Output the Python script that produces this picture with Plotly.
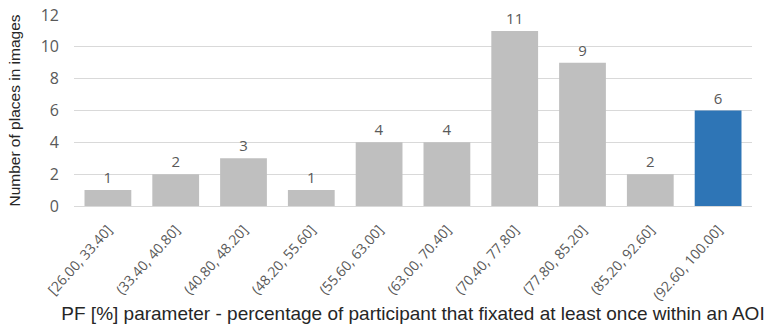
import plotly.graph_objects as go

# Histogram bins of the PF parameter and the number of places in each
bins = ["[26.00, 33.40]", "(33.40, 40.80]", "(40.80, 48.20]", "(48.20, 55.60]",
        "(55.60, 63.00]", "(63.00, 70.40]", "(70.40, 77.80]", "(77.80, 85.20]",
        "(85.20, 92.60]", "(92.60, 100.00]"]
counts = [1, 2, 3, 1, 4, 4, 11, 9, 2, 6]
highlight_bin = "(92.60, 100.00]"

grey = "#BFBFBF"
blue = "#2E75B6"
bar_colors = [blue if b == highlight_bin else grey for b in bins]

fig = go.Figure(go.Bar(
    x=bins, y=counts,
    marker=dict(color=bar_colors, line=dict(width=0)),
    text=[str(c) for c in counts],
    textposition="outside",
    textfont=dict(family="Open Sans, Liberation Sans, sans-serif", size=15, color="#595959"),
    cliponaxis=False,
))

fig.update_layout(
    width=778, height=324,
    margin=dict(l=74, r=26, t=15, b=118),
    paper_bgcolor="white", plot_bgcolor="white",
    bargap=0.31,
    showlegend=False,
    font=dict(family="Liberation Sans, Arial, sans-serif"),
)
fig.update_yaxes(
    automargin=False,
    range=[0, 12], dtick=2,
    showgrid=True, gridcolor="#D9D9D9", gridwidth=1,
    zeroline=True, zerolinecolor="#D9D9D9", zerolinewidth=1,
    showline=False, ticks="",
    tickfont=dict(family="Open Sans, Liberation Sans, sans-serif", size=16, color="#595959"),
    ticklabelstandoff=14,
    title=dict(text="Number of places in images",
               font=dict(family="Liberation Sans, Arial, sans-serif", size=15.5, color="#262626"),
               standoff=16),
)
fig.update_xaxes(
    automargin=False,
    tickangle=-48, ticks="", showline=False,
    tickfont=dict(family="Open Sans, Liberation Sans, sans-serif", size=14, color="#595959"),
    ticklabelstandoff=12,
    title=dict(text="PF [%] parameter - percentage of participant that fixated at least once within an AOI",
               font=dict(family="Liberation Sans, Arial, sans-serif", size=19, color="#262626"),
               standoff=5),
)

fig.write_html("out.html")
